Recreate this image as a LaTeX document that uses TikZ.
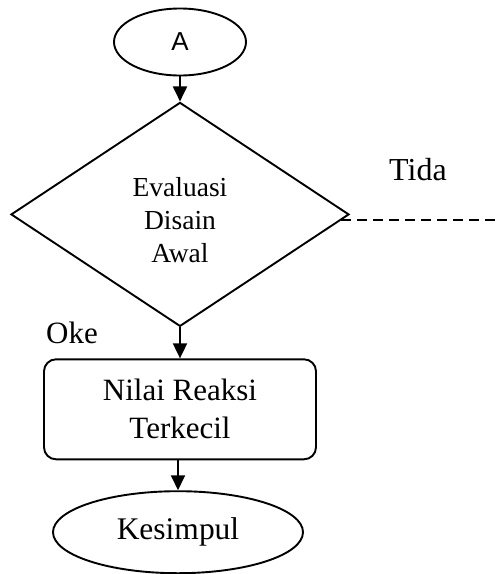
\documentclass[tikz,border=0pt]{standalone}
\usepackage{fontspec}
\setmainfont{Liberation Serif}
\newfontfamily\sansA{Liberation Sans}
\usetikzlibrary{positioning, shapes.geometric, arrows.meta}
\tikzset{
  terminal/.style = {
    draw,
    ellipse,
    line width=1.9pt,
    inner sep=0pt,
    font=\fontsize{31.5}{36}\selectfont
  },
  decision/.style = {
    draw,
    diamond,
    aspect=1.51,
    line width=1.9pt,
    minimum width=338pt,
    minimum height=224pt,
    inner sep=0pt,
    align=center,
    font=\fontsize{27.5}{33}\selectfont
  },
  process/.style = {
    draw,
    rounded corners=12pt,
    line width=1.9pt,
    minimum width=272pt,
    minimum height=100pt,
    align=center,
    font=\fontsize{31}{38}\selectfont
  },
  arrow/.style = {
    -{Triangle[length=15pt, width=14pt]},
    line width=1.9pt
  },
  dashedline/.style = {
    line width=1.9pt,
    dash pattern=on 10pt off 6pt
  },
  annot/.style = {
    font=\fontsize{31}{36}\selectfont,
    inner sep=0pt
  },
}

\begin{document}
\begin{tikzpicture}[x=1pt, y=-1pt, node distance=25pt]
    \useasboundingbox (0,0) rectangle (501,574);
    \node[terminal, minimum width=132pt, minimum height=67pt,
      font=\sansA\fontsize{26}{30}\selectfont] (a) at (180,42) {A};
    \node[decision, below=of a]             (eval) {\mbox{}\\[-2pt]Evaluasi\\Disain\\Awal};
    \node[process, below=31pt of eval]      (nilai) {Nilai Reaksi\\Terkecil};
    \node[terminal, minimum width=250pt, minimum height=82pt,
      below=30pt of nilai, xshift=-2pt]     (kes)  {Kesimpul};
    \draw[arrow] (a) -- (eval);
    \draw[arrow] (eval) -- (nilai);
    \draw[arrow] (nilai.south -| kes) -- (kes);
    \coordinate (tidaend) at (eval.-2.5 -| 501,0);
    \draw[dashedline] (eval.-2.5) -- (tidaend);
    \node[annot, font=\fontsize{32}{36}\selectfont] (tida) at (418,170) {Tida};
    \node[annot] (oke)  at (72,333)  {Oke};
  \end{tikzpicture}
\end{document}
